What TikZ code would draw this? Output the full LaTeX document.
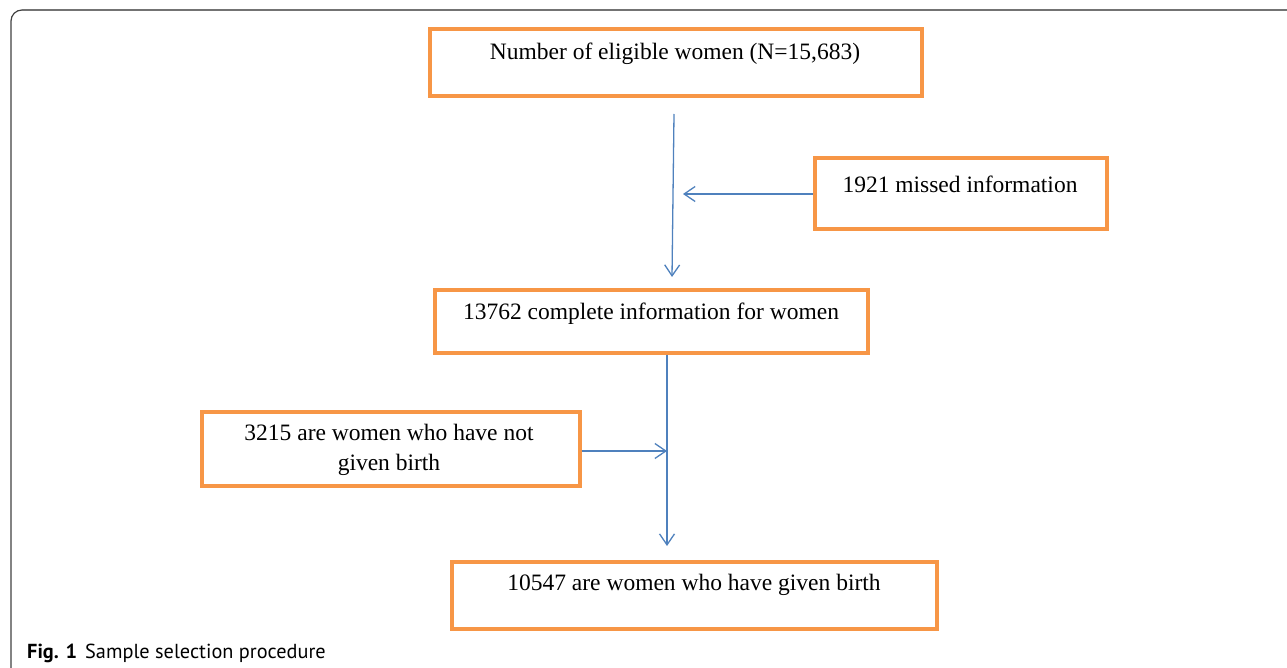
\documentclass[tikz,border=0pt]{standalone}
\usepackage{fontspec}
\setmainfont{Liberation Serif}
\newfontfamily\capfont{PT Sans}
\usetikzlibrary{arrows.meta,calc}
\definecolor{boxorange}{HTML}{F79646}
\definecolor{arrowblue}{HTML}{4F81BD}
\tikzset{
  flowbox/.style={draw=boxorange,line width=4pt,rectangle,inner sep=0pt,anchor=north west},
  boxtext/.style={font=\fontsize{23.5}{30}\selectfont,align=center,inner sep=0pt},
  flowarrow/.style={draw=arrowblue,line width=1.3pt,-{Straight Barb[length=11pt,width=15pt,line width=1.3pt]}},
}
\begin{document}
\begin{tikzpicture}[x=1pt,y=-1pt]
\useasboundingbox (0,0) rectangle (1287,668);
% figure frame
\draw[draw=black!75,line width=1.2pt] (11,668) -- (11,21) arc[start angle=180,end angle=270,radius=11];
\draw[draw=black!55,line width=2pt] (22,10) -- (1287,10);
% boxes
\node[flowbox,minimum width=492pt,minimum height=67pt] (b1) at (427.5,27.5) {};
\node[flowbox,minimum width=292pt,minimum height=71pt] (b2) at (812.5,156.5) {};
\node[flowbox,minimum width=433pt,minimum height=63pt] (b3) at (432.5,287.5) {};
\node[flowbox,minimum width=378pt,minimum height=74pt] (b4) at (199.5,409.5) {};
\node[flowbox,minimum width=485pt,minimum height=67pt] (b5) at (449.5,559.5) {};
% texts
\node[boxtext] (t1) at (675,54) {Number of eligible women (N=15,683)};
\node[boxtext] (t2) at (960,184) {1921 missed information};
\node[boxtext] (t3) at (651,314) {13762 complete information for women};
\node[boxtext] (t4) at (389,450) {3215 are women who have not\\given birth};
\node[boxtext] (t5) at (694,585) {10547 are women who have given birth};
% connectors
\coordinate (a1s) at ($(b1.south west)+(246.5,15.5)$);
\coordinate (a1e) at ($(b3.north west)+(239.5,-10.5)$);
\draw[flowarrow] (a1s) -- (a1e);
\coordinate (a2e) at ($(b2.west)+(-129.5,0)$);
\draw[flowarrow] (b2.west) -- (a2e);
\coordinate (a3s) at ($(b3.south west)+(234.5,0)$);
\coordinate (a3e) at ($(b3.south west)+(234.5,191.5)$);
\draw[flowarrow] (a3s) -- (a3e);
\coordinate (a4s) at ($(b4.south east)+(0,-36.5)$);
\coordinate (a4e) at ($(b4.south east)+(85.5,-36.5)$);
\draw[flowarrow] (a4s) -- (a4e);
% caption
\node[anchor=base west,inner sep=0pt,font=\capfont\fontsize{20.3}{24}\selectfont] (cap) at (27,658) {\textbf{Fig. 1}\hspace{8pt}Sample selection procedure};
\end{tikzpicture}
\end{document}
